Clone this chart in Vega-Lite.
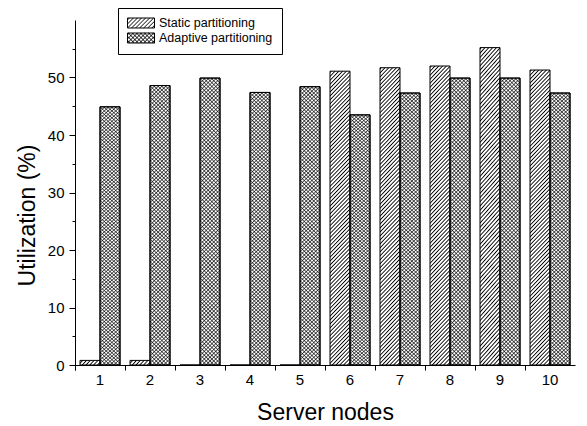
{
  "$schema": "https://vega.github.io/schema/vega-lite/v6.json",
  "width": 500,
  "height": 345,
  "autosize": {"type": "none"},
  "padding": {"left": 75, "top": 20, "right": 12, "bottom": 61},
  "background": "white",
  "data": {
    "values": [
      {"node": 1, "series": "Static partitioning", "value": 0.8},
      {"node": 1, "series": "Adaptive partitioning", "value": 44.9},
      {"node": 2, "series": "Static partitioning", "value": 0.8},
      {"node": 2, "series": "Adaptive partitioning", "value": 48.6},
      {"node": 3, "series": "Static partitioning", "value": 0},
      {"node": 3, "series": "Adaptive partitioning", "value": 49.9},
      {"node": 4, "series": "Static partitioning", "value": 0},
      {"node": 4, "series": "Adaptive partitioning", "value": 47.4},
      {"node": 5, "series": "Static partitioning", "value": 0},
      {"node": 5, "series": "Adaptive partitioning", "value": 48.4},
      {"node": 6, "series": "Static partitioning", "value": 51.1},
      {"node": 6, "series": "Adaptive partitioning", "value": 43.5},
      {"node": 7, "series": "Static partitioning", "value": 51.7},
      {"node": 7, "series": "Adaptive partitioning", "value": 47.3},
      {"node": 8, "series": "Static partitioning", "value": 52.0},
      {"node": 8, "series": "Adaptive partitioning", "value": 49.9},
      {"node": 9, "series": "Static partitioning", "value": 55.2},
      {"node": 9, "series": "Adaptive partitioning", "value": 49.9},
      {"node": 10, "series": "Static partitioning", "value": 51.3},
      {"node": 10, "series": "Adaptive partitioning", "value": 47.3}
    ]
  },
  "encoding": {
    "x": {
      "field": "node", "type": "ordinal", "sort": null,
      "scale": {"paddingInner": 0, "paddingOuter": 0},
      "axis": {"title": "Server nodes", "labelAngle": 0, "bandPosition": 0, "tickExtra": true, "tickSize": 5, "labelPadding": 2, "titleY": 47.5, "titleBaseline": "middle", "titleFontSize": 23}
    },
    "xOffset": {
      "field": "series", "type": "nominal",
      "scale": {"domain": ["Static partitioning", "Adaptive partitioning"], "paddingInner": 0, "paddingOuter": 0.25}
    },
    "y": {
      "field": "value", "type": "quantitative",
      "scale": {"domain": [0, 60], "nice": false},
      "axis": {
        "title": "Utilization (%)",
        "values": [0, 5, 10, 15, 20, 25, 30, 35, 40, 45, 50, 55],
        "labelExpr": "datum.value % 10 === 0 ? datum.label : ''",
        "tickSize": {"condition": {"test": "datum.value % 10 === 0", "value": 6}, "value": 3},
        "labelPadding": 5,
        "titleX": -48, "titleY": 195, "titleBaseline": "middle", "titleFontSize": 23
      }
    }
  },
  "layer": [
    {
      "encoding": {
        "fillOpacity": {"condition": {"test": "datum.series === 'Adaptive partitioning'", "value": 0.72}, "value": 1}
      },
      "mark": {
        "type": "bar", "stroke": "black", "strokeWidth": 1,
        "fill": {"gradient": "linear", "x1": 0, "y1": 0, "x2": 0.0748, "y2": 1.065, "stops": [
{"offset":0,"color":"transparent"},{"offset":0.004,"color":"black"},{"offset":0.008,"color":"transparent"},{"offset":0.0125,"color":"transparent"},{"offset":0.0165,"color":"black"},{"offset":0.0205,"color":"transparent"},{"offset":0.025,"color":"transparent"},{"offset":0.029,"color":"black"},{"offset":0.033,"color":"transparent"},{"offset":0.0375,"color":"transparent"},{"offset":0.0415,"color":"black"},{"offset":0.0455,"color":"transparent"},{"offset":0.05,"color":"transparent"},{"offset":0.054,"color":"black"},{"offset":0.058,"color":"transparent"},{"offset":0.0625,"color":"transparent"},{"offset":0.0665,"color":"black"},{"offset":0.0705,"color":"transparent"},{"offset":0.075,"color":"transparent"},{"offset":0.079,"color":"black"},{"offset":0.083,"color":"transparent"},{"offset":0.0875,"color":"transparent"},{"offset":0.0915,"color":"black"},{"offset":0.0955,"color":"transparent"},
{"offset":0.1,"color":"transparent"},{"offset":0.104,"color":"black"},{"offset":0.108,"color":"transparent"},{"offset":0.1125,"color":"transparent"},{"offset":0.1165,"color":"black"},{"offset":0.1205,"color":"transparent"},{"offset":0.125,"color":"transparent"},{"offset":0.129,"color":"black"},{"offset":0.133,"color":"transparent"},{"offset":0.1375,"color":"transparent"},{"offset":0.1415,"color":"black"},{"offset":0.1455,"color":"transparent"},{"offset":0.15,"color":"transparent"},{"offset":0.154,"color":"black"},{"offset":0.158,"color":"transparent"},{"offset":0.1625,"color":"transparent"},{"offset":0.1665,"color":"black"},{"offset":0.1705,"color":"transparent"},{"offset":0.175,"color":"transparent"},{"offset":0.179,"color":"black"},{"offset":0.183,"color":"transparent"},{"offset":0.1875,"color":"transparent"},{"offset":0.1915,"color":"black"},{"offset":0.1955,"color":"transparent"},
{"offset":0.2,"color":"transparent"},{"offset":0.204,"color":"black"},{"offset":0.208,"color":"transparent"},{"offset":0.2125,"color":"transparent"},{"offset":0.2165,"color":"black"},{"offset":0.2205,"color":"transparent"},{"offset":0.225,"color":"transparent"},{"offset":0.229,"color":"black"},{"offset":0.233,"color":"transparent"},{"offset":0.2375,"color":"transparent"},{"offset":0.2415,"color":"black"},{"offset":0.2455,"color":"transparent"},{"offset":0.25,"color":"transparent"},{"offset":0.254,"color":"black"},{"offset":0.258,"color":"transparent"},{"offset":0.2625,"color":"transparent"},{"offset":0.2665,"color":"black"},{"offset":0.2705,"color":"transparent"},{"offset":0.275,"color":"transparent"},{"offset":0.279,"color":"black"},{"offset":0.283,"color":"transparent"},{"offset":0.2875,"color":"transparent"},{"offset":0.2915,"color":"black"},{"offset":0.2955,"color":"transparent"},
{"offset":0.3,"color":"transparent"},{"offset":0.304,"color":"black"},{"offset":0.308,"color":"transparent"},{"offset":0.3125,"color":"transparent"},{"offset":0.3165,"color":"black"},{"offset":0.3205,"color":"transparent"},{"offset":0.325,"color":"transparent"},{"offset":0.329,"color":"black"},{"offset":0.333,"color":"transparent"},{"offset":0.3375,"color":"transparent"},{"offset":0.3415,"color":"black"},{"offset":0.3455,"color":"transparent"},{"offset":0.35,"color":"transparent"},{"offset":0.354,"color":"black"},{"offset":0.358,"color":"transparent"},{"offset":0.3625,"color":"transparent"},{"offset":0.3665,"color":"black"},{"offset":0.3705,"color":"transparent"},{"offset":0.375,"color":"transparent"},{"offset":0.379,"color":"black"},{"offset":0.383,"color":"transparent"},{"offset":0.3875,"color":"transparent"},{"offset":0.3915,"color":"black"},{"offset":0.3955,"color":"transparent"},
{"offset":0.4,"color":"transparent"},{"offset":0.404,"color":"black"},{"offset":0.408,"color":"transparent"},{"offset":0.4125,"color":"transparent"},{"offset":0.4165,"color":"black"},{"offset":0.4205,"color":"transparent"},{"offset":0.425,"color":"transparent"},{"offset":0.429,"color":"black"},{"offset":0.433,"color":"transparent"},{"offset":0.4375,"color":"transparent"},{"offset":0.4415,"color":"black"},{"offset":0.4455,"color":"transparent"},{"offset":0.45,"color":"transparent"},{"offset":0.454,"color":"black"},{"offset":0.458,"color":"transparent"},{"offset":0.4625,"color":"transparent"},{"offset":0.4665,"color":"black"},{"offset":0.4705,"color":"transparent"},{"offset":0.475,"color":"transparent"},{"offset":0.479,"color":"black"},{"offset":0.483,"color":"transparent"},{"offset":0.4875,"color":"transparent"},{"offset":0.4915,"color":"black"},{"offset":0.4955,"color":"transparent"},
{"offset":0.5,"color":"transparent"},{"offset":0.504,"color":"black"},{"offset":0.508,"color":"transparent"},{"offset":0.5125,"color":"transparent"},{"offset":0.5165,"color":"black"},{"offset":0.5205,"color":"transparent"},{"offset":0.525,"color":"transparent"},{"offset":0.529,"color":"black"},{"offset":0.533,"color":"transparent"},{"offset":0.5375,"color":"transparent"},{"offset":0.5415,"color":"black"},{"offset":0.5455,"color":"transparent"},{"offset":0.55,"color":"transparent"},{"offset":0.554,"color":"black"},{"offset":0.558,"color":"transparent"},{"offset":0.5625,"color":"transparent"},{"offset":0.5665,"color":"black"},{"offset":0.5705,"color":"transparent"},{"offset":0.575,"color":"transparent"},{"offset":0.579,"color":"black"},{"offset":0.583,"color":"transparent"},{"offset":0.5875,"color":"transparent"},{"offset":0.5915,"color":"black"},{"offset":0.5955,"color":"transparent"},
{"offset":0.6,"color":"transparent"},{"offset":0.604,"color":"black"},{"offset":0.608,"color":"transparent"},{"offset":0.6125,"color":"transparent"},{"offset":0.6165,"color":"black"},{"offset":0.6205,"color":"transparent"},{"offset":0.625,"color":"transparent"},{"offset":0.629,"color":"black"},{"offset":0.633,"color":"transparent"},{"offset":0.6375,"color":"transparent"},{"offset":0.6415,"color":"black"},{"offset":0.6455,"color":"transparent"},{"offset":0.65,"color":"transparent"},{"offset":0.654,"color":"black"},{"offset":0.658,"color":"transparent"},{"offset":0.6625,"color":"transparent"},{"offset":0.6665,"color":"black"},{"offset":0.6705,"color":"transparent"},{"offset":0.675,"color":"transparent"},{"offset":0.679,"color":"black"},{"offset":0.683,"color":"transparent"},{"offset":0.6875,"color":"transparent"},{"offset":0.6915,"color":"black"},{"offset":0.6955,"color":"transparent"},
{"offset":0.7,"color":"transparent"},{"offset":0.704,"color":"black"},{"offset":0.708,"color":"transparent"},{"offset":0.7125,"color":"transparent"},{"offset":0.7165,"color":"black"},{"offset":0.7205,"color":"transparent"},{"offset":0.725,"color":"transparent"},{"offset":0.729,"color":"black"},{"offset":0.733,"color":"transparent"},{"offset":0.7375,"color":"transparent"},{"offset":0.7415,"color":"black"},{"offset":0.7455,"color":"transparent"},{"offset":0.75,"color":"transparent"},{"offset":0.754,"color":"black"},{"offset":0.758,"color":"transparent"},{"offset":0.7625,"color":"transparent"},{"offset":0.7665,"color":"black"},{"offset":0.7705,"color":"transparent"},{"offset":0.775,"color":"transparent"},{"offset":0.779,"color":"black"},{"offset":0.783,"color":"transparent"},{"offset":0.7875,"color":"transparent"},{"offset":0.7915,"color":"black"},{"offset":0.7955,"color":"transparent"},
{"offset":0.8,"color":"transparent"},{"offset":0.804,"color":"black"},{"offset":0.808,"color":"transparent"},{"offset":0.8125,"color":"transparent"},{"offset":0.8165,"color":"black"},{"offset":0.8205,"color":"transparent"},{"offset":0.825,"color":"transparent"},{"offset":0.829,"color":"black"},{"offset":0.833,"color":"transparent"},{"offset":0.8375,"color":"transparent"},{"offset":0.8415,"color":"black"},{"offset":0.8455,"color":"transparent"},{"offset":0.85,"color":"transparent"},{"offset":0.854,"color":"black"},{"offset":0.858,"color":"transparent"},{"offset":0.8625,"color":"transparent"},{"offset":0.8665,"color":"black"},{"offset":0.8705,"color":"transparent"},{"offset":0.875,"color":"transparent"},{"offset":0.879,"color":"black"},{"offset":0.883,"color":"transparent"},{"offset":0.8875,"color":"transparent"},{"offset":0.8915,"color":"black"},{"offset":0.8955,"color":"transparent"},
{"offset":0.9,"color":"transparent"},{"offset":0.904,"color":"black"},{"offset":0.908,"color":"transparent"},{"offset":0.9125,"color":"transparent"},{"offset":0.9165,"color":"black"},{"offset":0.9205,"color":"transparent"},{"offset":0.925,"color":"transparent"},{"offset":0.929,"color":"black"},{"offset":0.933,"color":"transparent"},{"offset":0.9375,"color":"transparent"},{"offset":0.9415,"color":"black"},{"offset":0.9455,"color":"transparent"},{"offset":0.95,"color":"transparent"},{"offset":0.954,"color":"black"},{"offset":0.958,"color":"transparent"},{"offset":0.9625,"color":"transparent"},{"offset":0.9665,"color":"black"},{"offset":0.9705,"color":"transparent"},{"offset":0.975,"color":"transparent"},{"offset":0.979,"color":"black"},{"offset":0.983,"color":"transparent"},{"offset":0.9875,"color":"transparent"},{"offset":0.9915,"color":"black"},{"offset":0.9955,"color":"transparent"}
        ]}
      }
    },
    {
      "transform": [{"filter": "datum.series === 'Adaptive partitioning'"}],
      "mark": {
        "type": "bar", "stroke": "black", "strokeWidth": 1, "fillOpacity": 0.72,
        "fill": {"gradient": "linear", "x1": 1, "y1": 0, "x2": 0.9252, "y2": 1.065, "stops": [
{"offset":0,"color":"transparent"},{"offset":0.004,"color":"black"},{"offset":0.008,"color":"transparent"},{"offset":0.0125,"color":"transparent"},{"offset":0.0165,"color":"black"},{"offset":0.0205,"color":"transparent"},{"offset":0.025,"color":"transparent"},{"offset":0.029,"color":"black"},{"offset":0.033,"color":"transparent"},{"offset":0.0375,"color":"transparent"},{"offset":0.0415,"color":"black"},{"offset":0.0455,"color":"transparent"},{"offset":0.05,"color":"transparent"},{"offset":0.054,"color":"black"},{"offset":0.058,"color":"transparent"},{"offset":0.0625,"color":"transparent"},{"offset":0.0665,"color":"black"},{"offset":0.0705,"color":"transparent"},{"offset":0.075,"color":"transparent"},{"offset":0.079,"color":"black"},{"offset":0.083,"color":"transparent"},{"offset":0.0875,"color":"transparent"},{"offset":0.0915,"color":"black"},{"offset":0.0955,"color":"transparent"},
{"offset":0.1,"color":"transparent"},{"offset":0.104,"color":"black"},{"offset":0.108,"color":"transparent"},{"offset":0.1125,"color":"transparent"},{"offset":0.1165,"color":"black"},{"offset":0.1205,"color":"transparent"},{"offset":0.125,"color":"transparent"},{"offset":0.129,"color":"black"},{"offset":0.133,"color":"transparent"},{"offset":0.1375,"color":"transparent"},{"offset":0.1415,"color":"black"},{"offset":0.1455,"color":"transparent"},{"offset":0.15,"color":"transparent"},{"offset":0.154,"color":"black"},{"offset":0.158,"color":"transparent"},{"offset":0.1625,"color":"transparent"},{"offset":0.1665,"color":"black"},{"offset":0.1705,"color":"transparent"},{"offset":0.175,"color":"transparent"},{"offset":0.179,"color":"black"},{"offset":0.183,"color":"transparent"},{"offset":0.1875,"color":"transparent"},{"offset":0.1915,"color":"black"},{"offset":0.1955,"color":"transparent"},
{"offset":0.2,"color":"transparent"},{"offset":0.204,"color":"black"},{"offset":0.208,"color":"transparent"},{"offset":0.2125,"color":"transparent"},{"offset":0.2165,"color":"black"},{"offset":0.2205,"color":"transparent"},{"offset":0.225,"color":"transparent"},{"offset":0.229,"color":"black"},{"offset":0.233,"color":"transparent"},{"offset":0.2375,"color":"transparent"},{"offset":0.2415,"color":"black"},{"offset":0.2455,"color":"transparent"},{"offset":0.25,"color":"transparent"},{"offset":0.254,"color":"black"},{"offset":0.258,"color":"transparent"},{"offset":0.2625,"color":"transparent"},{"offset":0.2665,"color":"black"},{"offset":0.2705,"color":"transparent"},{"offset":0.275,"color":"transparent"},{"offset":0.279,"color":"black"},{"offset":0.283,"color":"transparent"},{"offset":0.2875,"color":"transparent"},{"offset":0.2915,"color":"black"},{"offset":0.2955,"color":"transparent"},
{"offset":0.3,"color":"transparent"},{"offset":0.304,"color":"black"},{"offset":0.308,"color":"transparent"},{"offset":0.3125,"color":"transparent"},{"offset":0.3165,"color":"black"},{"offset":0.3205,"color":"transparent"},{"offset":0.325,"color":"transparent"},{"offset":0.329,"color":"black"},{"offset":0.333,"color":"transparent"},{"offset":0.3375,"color":"transparent"},{"offset":0.3415,"color":"black"},{"offset":0.3455,"color":"transparent"},{"offset":0.35,"color":"transparent"},{"offset":0.354,"color":"black"},{"offset":0.358,"color":"transparent"},{"offset":0.3625,"color":"transparent"},{"offset":0.3665,"color":"black"},{"offset":0.3705,"color":"transparent"},{"offset":0.375,"color":"transparent"},{"offset":0.379,"color":"black"},{"offset":0.383,"color":"transparent"},{"offset":0.3875,"color":"transparent"},{"offset":0.3915,"color":"black"},{"offset":0.3955,"color":"transparent"},
{"offset":0.4,"color":"transparent"},{"offset":0.404,"color":"black"},{"offset":0.408,"color":"transparent"},{"offset":0.4125,"color":"transparent"},{"offset":0.4165,"color":"black"},{"offset":0.4205,"color":"transparent"},{"offset":0.425,"color":"transparent"},{"offset":0.429,"color":"black"},{"offset":0.433,"color":"transparent"},{"offset":0.4375,"color":"transparent"},{"offset":0.4415,"color":"black"},{"offset":0.4455,"color":"transparent"},{"offset":0.45,"color":"transparent"},{"offset":0.454,"color":"black"},{"offset":0.458,"color":"transparent"},{"offset":0.4625,"color":"transparent"},{"offset":0.4665,"color":"black"},{"offset":0.4705,"color":"transparent"},{"offset":0.475,"color":"transparent"},{"offset":0.479,"color":"black"},{"offset":0.483,"color":"transparent"},{"offset":0.4875,"color":"transparent"},{"offset":0.4915,"color":"black"},{"offset":0.4955,"color":"transparent"},
{"offset":0.5,"color":"transparent"},{"offset":0.504,"color":"black"},{"offset":0.508,"color":"transparent"},{"offset":0.5125,"color":"transparent"},{"offset":0.5165,"color":"black"},{"offset":0.5205,"color":"transparent"},{"offset":0.525,"color":"transparent"},{"offset":0.529,"color":"black"},{"offset":0.533,"color":"transparent"},{"offset":0.5375,"color":"transparent"},{"offset":0.5415,"color":"black"},{"offset":0.5455,"color":"transparent"},{"offset":0.55,"color":"transparent"},{"offset":0.554,"color":"black"},{"offset":0.558,"color":"transparent"},{"offset":0.5625,"color":"transparent"},{"offset":0.5665,"color":"black"},{"offset":0.5705,"color":"transparent"},{"offset":0.575,"color":"transparent"},{"offset":0.579,"color":"black"},{"offset":0.583,"color":"transparent"},{"offset":0.5875,"color":"transparent"},{"offset":0.5915,"color":"black"},{"offset":0.5955,"color":"transparent"},
{"offset":0.6,"color":"transparent"},{"offset":0.604,"color":"black"},{"offset":0.608,"color":"transparent"},{"offset":0.6125,"color":"transparent"},{"offset":0.6165,"color":"black"},{"offset":0.6205,"color":"transparent"},{"offset":0.625,"color":"transparent"},{"offset":0.629,"color":"black"},{"offset":0.633,"color":"transparent"},{"offset":0.6375,"color":"transparent"},{"offset":0.6415,"color":"black"},{"offset":0.6455,"color":"transparent"},{"offset":0.65,"color":"transparent"},{"offset":0.654,"color":"black"},{"offset":0.658,"color":"transparent"},{"offset":0.6625,"color":"transparent"},{"offset":0.6665,"color":"black"},{"offset":0.6705,"color":"transparent"},{"offset":0.675,"color":"transparent"},{"offset":0.679,"color":"black"},{"offset":0.683,"color":"transparent"},{"offset":0.6875,"color":"transparent"},{"offset":0.6915,"color":"black"},{"offset":0.6955,"color":"transparent"},
{"offset":0.7,"color":"transparent"},{"offset":0.704,"color":"black"},{"offset":0.708,"color":"transparent"},{"offset":0.7125,"color":"transparent"},{"offset":0.7165,"color":"black"},{"offset":0.7205,"color":"transparent"},{"offset":0.725,"color":"transparent"},{"offset":0.729,"color":"black"},{"offset":0.733,"color":"transparent"},{"offset":0.7375,"color":"transparent"},{"offset":0.7415,"color":"black"},{"offset":0.7455,"color":"transparent"},{"offset":0.75,"color":"transparent"},{"offset":0.754,"color":"black"},{"offset":0.758,"color":"transparent"},{"offset":0.7625,"color":"transparent"},{"offset":0.7665,"color":"black"},{"offset":0.7705,"color":"transparent"},{"offset":0.775,"color":"transparent"},{"offset":0.779,"color":"black"},{"offset":0.783,"color":"transparent"},{"offset":0.7875,"color":"transparent"},{"offset":0.7915,"color":"black"},{"offset":0.7955,"color":"transparent"},
{"offset":0.8,"color":"transparent"},{"offset":0.804,"color":"black"},{"offset":0.808,"color":"transparent"},{"offset":0.8125,"color":"transparent"},{"offset":0.8165,"color":"black"},{"offset":0.8205,"color":"transparent"},{"offset":0.825,"color":"transparent"},{"offset":0.829,"color":"black"},{"offset":0.833,"color":"transparent"},{"offset":0.8375,"color":"transparent"},{"offset":0.8415,"color":"black"},{"offset":0.8455,"color":"transparent"},{"offset":0.85,"color":"transparent"},{"offset":0.854,"color":"black"},{"offset":0.858,"color":"transparent"},{"offset":0.8625,"color":"transparent"},{"offset":0.8665,"color":"black"},{"offset":0.8705,"color":"transparent"},{"offset":0.875,"color":"transparent"},{"offset":0.879,"color":"black"},{"offset":0.883,"color":"transparent"},{"offset":0.8875,"color":"transparent"},{"offset":0.8915,"color":"black"},{"offset":0.8955,"color":"transparent"},
{"offset":0.9,"color":"transparent"},{"offset":0.904,"color":"black"},{"offset":0.908,"color":"transparent"},{"offset":0.9125,"color":"transparent"},{"offset":0.9165,"color":"black"},{"offset":0.9205,"color":"transparent"},{"offset":0.925,"color":"transparent"},{"offset":0.929,"color":"black"},{"offset":0.933,"color":"transparent"},{"offset":0.9375,"color":"transparent"},{"offset":0.9415,"color":"black"},{"offset":0.9455,"color":"transparent"},{"offset":0.95,"color":"transparent"},{"offset":0.954,"color":"black"},{"offset":0.958,"color":"transparent"},{"offset":0.9625,"color":"transparent"},{"offset":0.9665,"color":"black"},{"offset":0.9705,"color":"transparent"},{"offset":0.975,"color":"transparent"},{"offset":0.979,"color":"black"},{"offset":0.983,"color":"transparent"},{"offset":0.9875,"color":"transparent"},{"offset":0.9915,"color":"black"},{"offset":0.9955,"color":"transparent"}
        ]}
      }
    },
    {
      "mark": {"type": "point", "filled": false, "opacity": 0, "color": "black"},
      "encoding": {
        "shape": {
          "field": "series", "type": "nominal",
          "scale": {
            "domain": ["Static partitioning", "Adaptive partitioning"],
            "range": [
              "M-1,-0.37H1V0.37H-1ZM-1,-0.23L-0.86,-0.37M-1,0.07L-0.56,-0.37M-1,0.37L-0.26,-0.37M-0.7,0.37L0.04,-0.37M-0.4,0.37L0.34,-0.37M-0.1,0.37L0.64,-0.37M0.2,0.37L0.94,-0.37M0.5,0.37L1,-0.13M0.8,0.37L1,0.17",
              "M-1,-0.37H1V0.37H-1ZM-1,-0.23L-0.86,-0.37M-1,0.07L-0.56,-0.37M-1,0.37L-0.26,-0.37M-0.7,0.37L0.04,-0.37M-0.4,0.37L0.34,-0.37M-0.1,0.37L0.64,-0.37M0.2,0.37L0.94,-0.37M0.5,0.37L1,-0.13M0.8,0.37L1,0.17M1,-0.23L0.86,-0.37M1,0.07L0.56,-0.37M1,0.37L0.26,-0.37M0.7,0.37L-0.04,-0.37M0.4,0.37L-0.34,-0.37M0.1,0.37L-0.64,-0.37M-0.2,0.37L-0.94,-0.37M-0.5,0.37L-1,-0.13M-0.8,0.37L-1,0.17"
            ]
          },
          "legend": {
            "title": null, "orient": "none", "legendX": 43, "legendY": -12,
            "symbolSize": 729, "symbolStrokeWidth": 1, "symbolStrokeColor": "black", "symbolOpacity": 1, "symbolFillColor": "white",
            "labelFont": "Liberation Sans", "labelFontSize": 12.5, "labelColor": "black", "labelOffset": 4, "labelLimit": 300,
            "clipHeight": 12, "rowPadding": 2, "padding": 9, "strokeColor": "black", "fillColor": "white"
          }
        }
      }
    }
  ],
  "config": {
    "view": {"stroke": null},
    "font": "Liberation Sans",
    "axis": {
      "domainColor": "black", "tickColor": "black", "labelColor": "black", "titleColor": "black",
      "labelFont": "Liberation Sans", "titleFont": "Liberation Sans", "labelFontSize": 15,
      "titleFontWeight": "normal", "grid": false, "domainWidth": 1, "tickWidth": 1
    }
  }
}
